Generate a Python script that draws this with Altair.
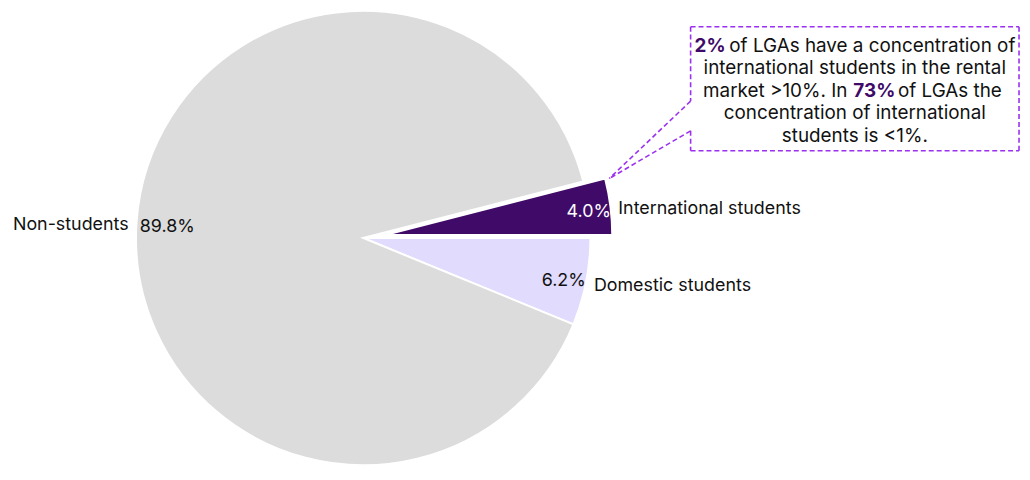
import math
import altair as alt
import pandas as pd

categories = ["International students", "Domestic students", "Non-students"]
shares = [4.0, 6.2, 89.8]
share_labels = ["4.0%", "6.2%", "89.8%"]
slice_colors = ["#400a69", "#e1dbfd", "#dcdcdc"]
value_text_colors = ["#ffffff", "#111111", "#111111"]

note_lines = [
    "international students in the rental",
    "concentration of international",
    "students is <1%.",
]
note_bold = ["2%", "73%"]

FONT = "Inter"
W, H = 1022, 464
CX, CY, R = 358, 230, 229
EXPLODE_DX, EXPLODE_DY = 22, -3
PURPLE_LINE = "#9b30f2"
DARK = "#400a69"
LABEL_SIZE = 18
NOTE_SIZE = 19

df = pd.DataFrame({
    "category": categories,
    "share": shares,
    "label": share_labels,
    "color": slice_colors,
    "tcolor": value_text_colors,
})
df["end"] = df["share"].cumsum()
df["start"] = df["end"] - df["share"]
df["mid"] = (df["start"] + df["end"]) / 2
df["explode"] = df["category"] == "International students"
df["side"] = ["right", "right", "left"]

theta0 = math.radians(90 - shares[0] * 3.6)
theta_scale = alt.Scale(domain=[0, 100], range=[theta0, theta0 + 2 * math.pi])

base = alt.Chart(df)

color_enc = alt.Color("color:N", scale=None)


def arc_layer(explode):
    dx = EXPLODE_DX if explode else 0
    dy = EXPLODE_DY if explode else 0
    return base.transform_filter(
        alt.datum.explode == explode
    ).mark_arc(stroke="white", strokeWidth=2).encode(
        theta=alt.Theta("start:Q", scale=theta_scale),
        theta2="end:Q",
        radius=alt.value(R),
        x=alt.value(CX + dx),
        y=alt.value(CY + dy),
        color=color_enc,
    )


def value_text(explode, side, r):
    dx = EXPLODE_DX if explode else 0
    dy = EXPLODE_DY if explode else 0
    return base.transform_filter(
        (alt.datum.explode == explode) & (alt.datum.side == side)
    ).mark_text(font=FONT, fontSize=LABEL_SIZE, align="center", baseline="middle", dy=3).encode(
        theta=alt.Theta("mid:Q", scale=theta_scale),
        radius=alt.value(r),
        x=alt.value(CX + dx),
        y=alt.value(CY + dy),
        text="label:N",
        color=alt.Color("tcolor:N", scale=None),
    )


def cat_text(explode, side):
    dx = EXPLODE_DX if explode else 0
    dy = EXPLODE_DY if explode else 0
    return base.transform_filter(
        (alt.datum.explode == explode) & (alt.datum.side == side)
    ).mark_text(font=FONT, fontSize=LABEL_SIZE, align="left" if side == "right" else "right",
                baseline="middle", color="#111111", dy=3).encode(
        theta=alt.Theta("mid:Q", scale=theta_scale),
        radius=alt.value(237),
        x=alt.value(CX + dx),
        y=alt.value(CY + dy),
        text="category:N",
    )


layers = [
    arc_layer(False), arc_layer(True),
    value_text(False, "left", 198), value_text(False, "right", 206), value_text(True, "right", 207),
    cat_text(True, "right"), cat_text(False, "right"), cat_text(False, "left"),
]

# annotation box (speech bubble) with dashed outline
BX0, BX1, BY0, BY1 = 688, 1019, 17, 142
GAP0, GAP1 = 92, 122
TIP = (606, 170)
segments = [
    (BX0, BY0, BX1, BY0),
    (BX1, BY0, BX1, BY1),
    (BX0, BY1, BX1, BY1),
    (BX0, BY0, BX0, GAP0),
    (BX0, GAP1, BX0, BY1),
    (BX0, GAP0, TIP[0], TIP[1]),
    (BX0, GAP1, TIP[0], TIP[1]),
]
for (x1, y1, x2, y2) in segments:
    layers.append(
        alt.Chart(pd.DataFrame({"a": [0]})).mark_rule(
            color=PURPLE_LINE, strokeWidth=1.6, strokeDash=[5, 3]
        ).encode(x=alt.value(x1), y=alt.value(y1), x2=alt.value(x2), y2=alt.value(y2))
    )

one = pd.DataFrame({"a": [0]})


def note_text(txt, x, y, align="left", bold=False):
    return alt.Chart(one).mark_text(
        font=FONT, fontSize=NOTE_SIZE, align=align, baseline="middle",
        fontWeight="bold" if bold else "normal",
        color=DARK if bold else "#111111",
    ).encode(x=alt.value(x), y=alt.value(y), text=alt.value(txt))


NCX = (BX0 + BX1) / 2
layers += [
    note_text(note_bold[0], 692, 37, bold=True),
    note_text("of LGAs have a concentration of", 727, 37),
    note_text(note_lines[0], NCX, 59, align="center"),
    note_text("market >10%. In", 846, 82, align="right"),
    note_text(note_bold[1], 852, 82, bold=True),
    note_text("of LGAs the", 897, 82),
    note_text(note_lines[1], NCX, 104, align="center"),
    note_text(note_lines[2], NCX, 127, align="center"),
]

chart = alt.layer(*layers).properties(
    width=W, height=H, padding=0,
    autosize=alt.AutoSizeParams(type="none"),
).configure_view(stroke=None)

chart.save("out.html", embed_options={"renderer": "svg", "actions": False})
